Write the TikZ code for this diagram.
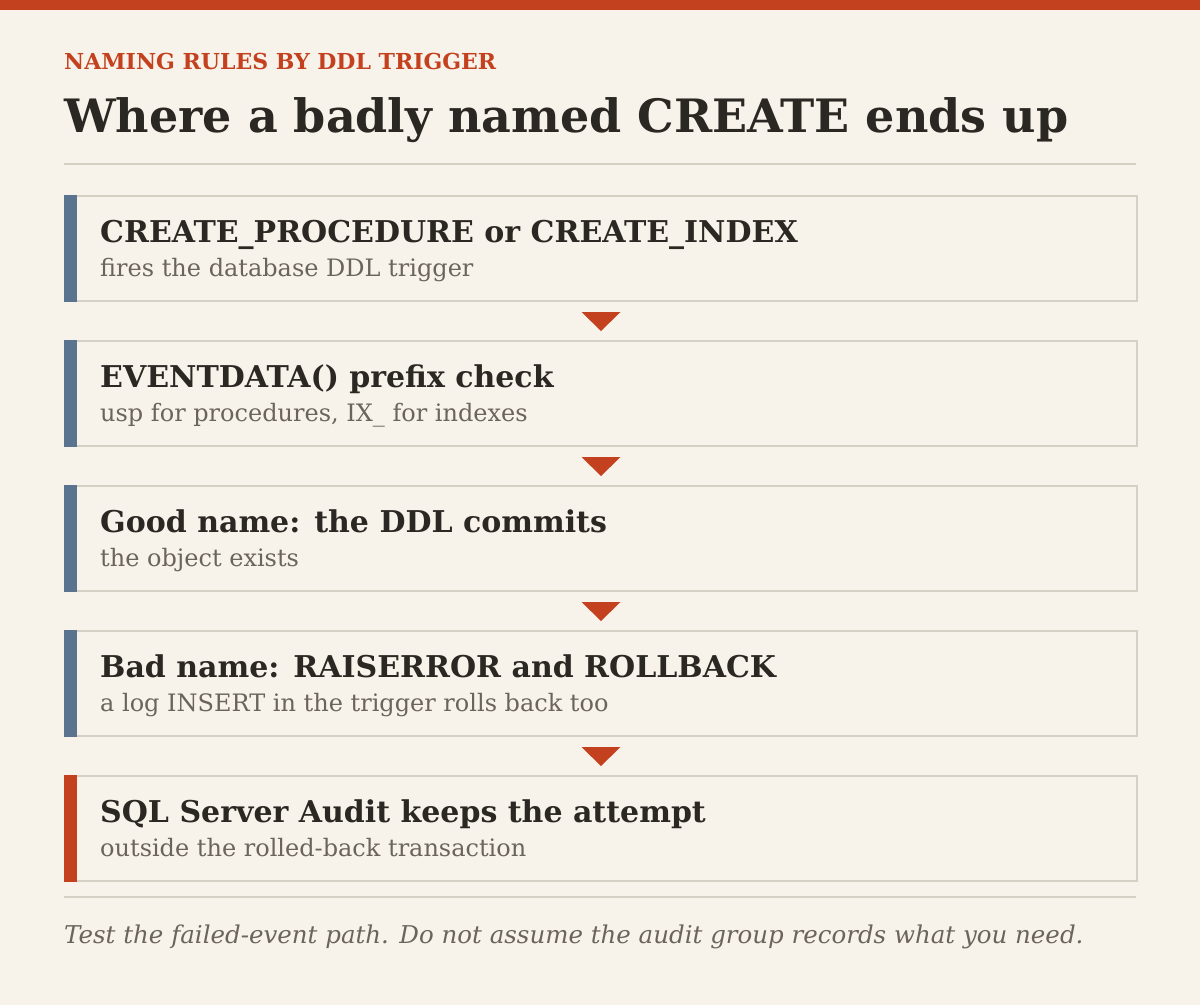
\documentclass[tikz,border=0pt]{standalone}
\usepackage{fontspec}
\setmainfont{DejaVu Serif}
\usetikzlibrary{calc}
\definecolor{bg}{HTML}{F8F3EA}
\definecolor{accent}{HTML}{C4411F}
\definecolor{ink}{HTML}{2B2722}
\definecolor{subink}{HTML}{6B645A}
\definecolor{border}{HTML}{D6CFC4}
\definecolor{steel}{HTML}{5A7490}
\tikzset{
  stepbox/.style={draw=border, line width=2pt, fill=bg, minimum width=1072pt, minimum height=105pt, inner sep=0pt, anchor=north west},
  headtext/.style={anchor=base west, inner sep=0pt, text=ink, font=\fontsize{30}{34}\selectfont\bfseries},
  subtext/.style={anchor=base west, inner sep=0pt, text=subink, font=\fontsize{24}{28}\selectfont},
  flowtip/.style={fill=accent},
  rulestyle/.style={draw=border, line width=2pt}
}
\begin{document}
\begin{tikzpicture}[x=1pt,y=-1pt]
\useasboundingbox (0,0) rectangle (1200,1005);
\fill[bg] (0,0) rectangle (1200,1005);
\fill[accent] (0,0) rectangle (1200,10);
\node[anchor=base west, inner sep=0pt, text=accent, font=\fontsize{22}{26}\selectfont\bfseries] (kicker) at (64,69) {NAMING RULES BY DDL TRIGGER};
\node[anchor=base west, inner sep=0pt, text=ink, font=\fontsize{46}{52}\selectfont\bfseries] (title) at (64,132) {Where a badly named CREATE ends up};
\coordinate (r1a) at (64,164);
\coordinate (r1b) at (1136,164);
\draw[rulestyle] (r1a) -- (r1b);
% boxes
\foreach \i/\y/\barc in {1/195/steel,2/340/steel,3/485/steel,4/630/steel,5/775/accent}{
  \node[stepbox] (b\i) at (64,\y) {};
  \fill[\barc] (b\i.north west) rectangle ($(b\i.south west)+(13pt,0pt)$);
}
\node[headtext] (b1h) at ($(b1.north west)+(36pt,-47pt)$) {CREATE\_PROCEDURE or CREATE\_INDEX};
\node[subtext] (b1s) at ($(b1.north west)+(36pt,-81pt)$) {fires the database DDL trigger};
\node[headtext] (b2h) at ($(b2.north west)+(36pt,-47pt)$) {EVENTDATA() prefix check};
\node[subtext] (b2s) at ($(b2.north west)+(36pt,-81pt)$) {usp for procedures, IX\_ for indexes};
\node[headtext] (b3h) at ($(b3.north west)+(36pt,-47pt)$) {Good name: the DDL commits};
\node[subtext] (b3s) at ($(b3.north west)+(36pt,-81pt)$) {the object exists};
\node[headtext] (b4h) at ($(b4.north west)+(36pt,-47pt)$) {Bad name: RAISERROR and ROLLBACK};
\node[subtext] (b4s) at ($(b4.north west)+(36pt,-81pt)$) {a log INSERT in the trigger rolls back too};
\node[headtext] (b5h) at ($(b5.north west)+(36pt,-47pt)$) {SQL Server Audit keeps the attempt};
\node[subtext] (b5s) at ($(b5.north west)+(36pt,-81pt)$) {outside the rolled-back transaction};
% arrows
\foreach \a in {1,2,3,4}{
  \fill[flowtip] ($(b\a.south)+(-19.5pt,-10pt)$) -- ($(b\a.south)+(19.5pt,-10pt)$) -- ($(b\a.south)+(0pt,-29pt)$) -- cycle;
}
\coordinate (r2a) at (64,897);
\coordinate (r2b) at (1136,897);
\draw[rulestyle] (r2a) -- (r2b);
\node[anchor=base west, inner sep=0pt, text=subink, font=\fontsize{24.5}{28}\selectfont\itshape] (footer) at (64,943) {Test the failed-event path. Do not assume the audit group records what you need.};
\end{tikzpicture}
\end{document}
